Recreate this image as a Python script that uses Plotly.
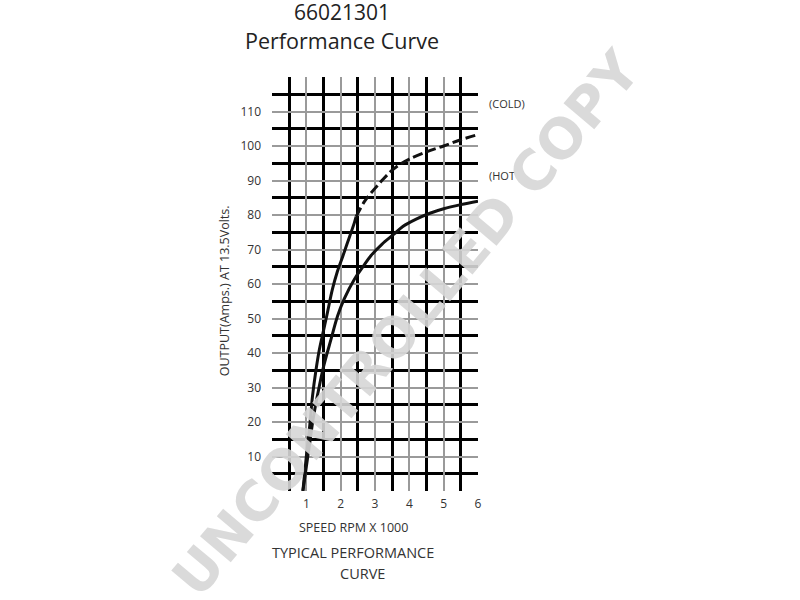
import plotly.graph_objects as go

# ---- data ----
cold_rpm = [0.9, 1.0, 1.1, 1.18, 1.28, 1.38, 1.5, 1.6, 1.76, 1.9, 2.06, 2.2, 2.4, 2.45,
            2.7, 2.98, 3.25, 3.5, 3.75, 4.0, 4.5, 5.0, 5.5, 6.0]
cold_amps = [0, 10, 19, 27.5, 35, 41, 46.5, 51, 58.5, 63.5, 68, 72, 77.8, 79.5,
             84, 87.5, 90.5, 93, 94.8, 96.2, 98.3, 100, 101.8, 103.3]
cold_solid_until = 13   # index where the cold curve turns dashed

hot_rpm = [0.9, 1.0, 1.1, 1.2, 1.33, 1.5, 1.72, 1.91, 2.1, 2.4, 2.65, 2.88, 3.2, 3.56,
           3.8, 4.2, 4.6, 5.0, 5.5, 6.0]
hot_amps = [0, 7, 14, 21, 28, 36, 44, 50.7, 55.6, 61.4, 65, 68.2, 71.5, 74.5,
            76.6, 78.8, 80.5, 81.8, 83, 84]

x_labels = [0, 1, 2, 3, 4, 5, 6]
x_text = ['', '1', '2', '3', '4', '5', '6']
y_labels = [0, 10, 20, 30, 40, 50, 60, 70, 80, 90, 100, 110, 120]
y_text = ['', '10', '20', '30', '40', '50', '60', '70', '80', '90', '100', '110', '']
x_major_grid = [0.5, 1.5, 2.5, 3.5, 4.5, 5.5]
y_major_grid = [5, 15, 25, 35, 45, 55, 65, 75, 85, 95, 105, 115]

FONT = "Open Sans"
TXT = "#333333"

fig = go.Figure()
fig.add_trace(go.Scatter(x=hot_rpm, y=hot_amps, mode="lines",
                         line=dict(color="#111111", width=3, shape="spline"),
                         showlegend=False, hoverinfo="skip"))
fig.add_trace(go.Scatter(x=cold_rpm[:cold_solid_until + 1], y=cold_amps[:cold_solid_until + 1],
                         mode="lines", line=dict(color="#111111", width=3, shape="spline"),
                         showlegend=False, hoverinfo="skip"))
fig.add_trace(go.Scatter(x=cold_rpm[cold_solid_until:], y=cold_amps[cold_solid_until:],
                         mode="lines", line=dict(color="#111111", width=3, shape="spline",
                                                 dash="10px,4px"),
                         showlegend=False, hoverinfo="skip"))

fig.update_xaxes(range=[0, 6], tickmode="array", tickvals=x_labels, ticktext=x_text,
                 showgrid=True, gridcolor="#9a9a9a", gridwidth=2, zeroline=False,
                 showline=False, ticks="", ticklabelstandoff=4,
                 tickfont=dict(family=FONT, size=12, color=TXT),
                 minor=dict(tickmode="array", tickvals=x_major_grid, showgrid=True,
                            gridcolor="#000000", gridwidth=3, ticks=""),
                 fixedrange=True)
fig.update_yaxes(range=[0, 120], tickmode="array", tickvals=y_labels, ticktext=y_text,
                 showgrid=True, gridcolor="#9a9a9a", gridwidth=2, zeroline=False,
                 showline=False, ticks="", ticklabelstandoff=10,
                 tickfont=dict(family=FONT, size=12, color=TXT),
                 minor=dict(tickmode="array", tickvals=y_major_grid, showgrid=True,
                            gridcolor="#000000", gridwidth=3, ticks=""),
                 fixedrange=True)

ann = [
    dict(text="66021301", x=0.34, y=1.157, font=dict(size=21, color="#222")),
    dict(text="Performance Curve", x=0.34, y=1.087, font=dict(size=21.5, color="#222")),
    dict(text="(COLD)", x=1.044, y=0.935, xanchor="left", font=dict(size=11, color=TXT)),
    dict(text="(HOT", x=1.044, y=0.763, xanchor="left", font=dict(size=11, color=TXT)),
    dict(text="SPEED RPM X 1000", x=0.395, y=-0.088, font=dict(size=12.5, color=TXT)),
    dict(text="TYPICAL PERFORMANCE", x=0.395, y=-0.148, font=dict(size=14.5, color=TXT)),
    dict(text="CURVE", x=0.44, y=-0.2, font=dict(size=14.5, color=TXT)),
    dict(text="OUTPUT(Amps.) AT 13.5Volts.", x=-0.233, y=0.4825, textangle=-90,
         font=dict(size=12.5, color=TXT)),
    dict(text="<b>UNCONTROLLED COPY</b>", x=0.655, y=0.405, textangle=-50,
         font=dict(size=55, color="rgba(214,214,214,0.9)", family="DejaVu Sans")),
]
for a in ann:
    a.setdefault("xref", "paper")
    a.setdefault("yref", "paper")
    a.setdefault("showarrow", False)
    a.setdefault("xanchor", "center")
    a.setdefault("yanchor", "middle")
    a["font"].setdefault("family", FONT)
fig.update_layout(annotations=ann)

fig.update_layout(width=800, height=600, plot_bgcolor="white", paper_bgcolor="white",
                  margin=dict(l=272, r=322, t=77, b=108.5), showlegend=False)

fig.write_html("out.html", config={"displayModeBar": False},
               post_script="document.body.style.margin='0px';"
                           "document.body.style.overflow='hidden';")
